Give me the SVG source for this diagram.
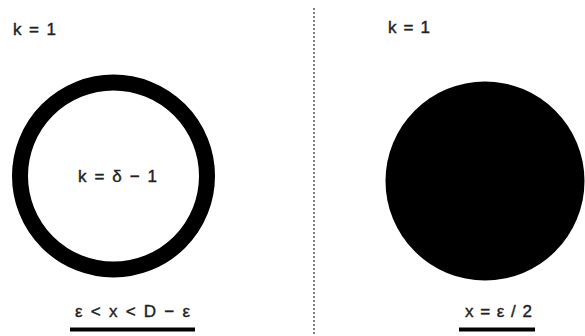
<svg xmlns="http://www.w3.org/2000/svg" width="585" height="336" viewBox="0 0 585 336">
<style>
text{font-family:"Liberation Sans",Arial,sans-serif;font-size:17px;fill:#222;stroke:#222;stroke-width:0.4}
.ul{stroke:#000;stroke-width:4}
</style>
<rect width="585" height="336" fill="#fff"/>
<g id="divider">
<line x1="314" y1="8" x2="314" y2="336" stroke="#555" stroke-width="1.5" stroke-dasharray="2,2"/>
</g>
<g id="left">
<text x="13" y="35" textLength="43" lengthAdjust="spacing">k = 1</text>
<circle cx="113.5" cy="176" r="93.5" fill="none" stroke="#000" stroke-width="16"/>
<text x="78" y="182" textLength="79" lengthAdjust="spacing">k = δ − 1</text>
<text x="75" y="317" textLength="115" lengthAdjust="spacing">ε &lt; x &lt; D − ε</text>
<line class="ul" x1="70" y1="329.5" x2="195" y2="329.5"/>
</g>
<g id="right">
<text x="388" y="33" textLength="42" lengthAdjust="spacing">k = 1</text>
<circle cx="485" cy="181" r="99.5" fill="#000"/>
<text x="465" y="317" textLength="67" lengthAdjust="spacing">x = ε / 2</text>
<line class="ul" x1="459" y1="329.5" x2="535" y2="329.5"/>
</g>
</svg>
